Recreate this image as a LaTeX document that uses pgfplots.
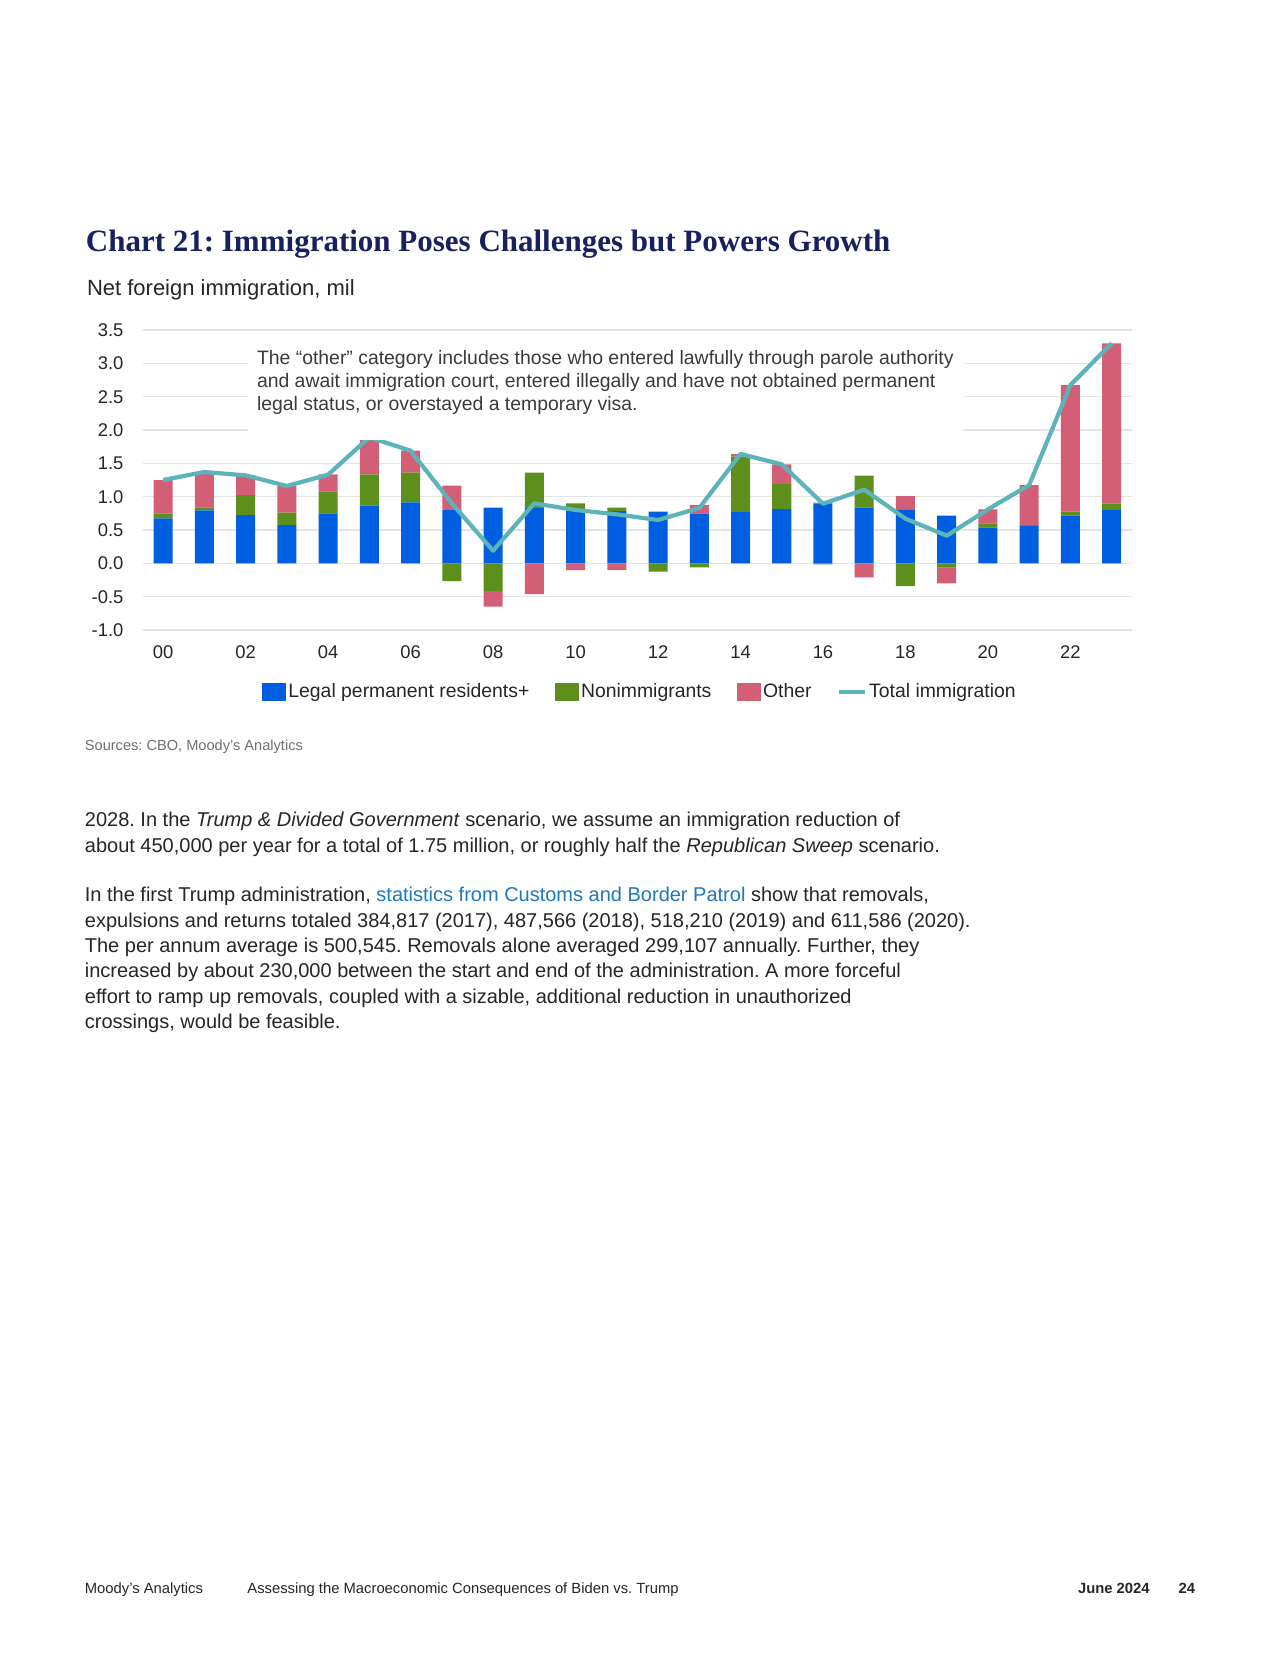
\documentclass[border=0pt]{standalone}
\usepackage{fontspec}
\setmainfont{Liberation Sans}
\newfontfamily\titlefont{Liberation Serif}
\usepackage{pgfplots}
\pgfplotsset{compat=1.18}
\usepackage{pgfplotstable}
\frenchspacing

\definecolor{lpr}{HTML}{005EE0}
\definecolor{nonimm}{HTML}{5C8F1B}
\definecolor{other}{HTML}{D35F77}
\definecolor{total}{HTML}{5DB3BA}
\definecolor{navy}{HTML}{16215E}
\definecolor{txt}{HTML}{262626}
\definecolor{anntxt}{HTML}{3A3A3A}
\definecolor{gridc}{HTML}{E4E4E4}
\definecolor{link}{HTML}{1E78BE}
\definecolor{srcgray}{HTML}{707070}

% idx = year - 2000; components split into positive and negative parts
\pgfplotstableread{
idx lpr  nipos otpos nineg  otneg  total
0  0.675 0.070 0.505 0      0      1.25
1  0.795 0.045 0.510 0      0      1.37
2  0.725 0.300 0.300 0      0      1.32
3  0.575 0.185 0.400 0      0      1.16
4  0.750 0.325 0.260 0      0      1.33
5  0.865 0.470 0.550 0      0      1.89
6  0.915 0.445 0.330 0      0      1.69
7  0.800 0     0.365 -0.265 0      0.90
8  0.835 0     0     -0.415 -0.235 0.19
9  0.830 0.530 0     0      -0.460 0.90
10 0.800 0.100 0     0      -0.100 0.80
11 0.785 0.050 0     0      -0.100 0.735
12 0.775 0     0     -0.125 0      0.65
13 0.745 0     0.130 -0.060 0      0.83
14 0.770 0.830 0.040 0      0      1.64
15 0.815 0.375 0.295 0      0      1.485
16 0.890 0     0.020 -0.015 0      0.895
17 0.835 0.480 0     0      -0.210 1.105
18 0.810 0     0.200 -0.340 0      0.67
19 0.715 0     0     -0.065 -0.235 0.415
20 0.535 0.065 0.210 0      0      0.81
21 0.560 0.015 0.600 0      0      1.175
22 0.715 0.060 1.900 0      0      2.675
23 0.800 0.100 2.400 0      0      3.30
}\data

\pgfplotsset{
  base/.style={
    scale only axis, width=494.9pt, height=150pt,
    xmin=-0.5, xmax=23.5, ymin=-1, ymax=3.5,
    at={(71.25pt,-315pt)}, anchor=south west,
  },
}

\begin{document}
\begin{tikzpicture}[x=0.5pt,y=-0.5pt]
\fill[white] (0,0) rectangle (1280,1656);

% Title
\node[anchor=base west, inner sep=0pt, text=navy,
      font=\titlefont\bfseries\fontsize{15.5pt}{19pt}\selectfont]
  at (85.5,251) {Chart 21: Immigration Poses Challenges but Powers Growth};
\node[anchor=base west, inner sep=0pt, text=txt,
      font=\fontsize{11pt}{13pt}\selectfont]
  at (86.6,295) {Net foreign immigration, mil};

% Positive parts + grid + legend
\begin{axis}[base,
  ybar stacked, bar width=9.5pt,
  axis line style={draw=none},
  major tick length=0pt,
  ymajorgrids, grid style={gridc, line width=0.8pt},
  ytick={-1,-0.5,0,0.5,1,1.5,2,2.5,3,3.5},
  yticklabels={-1.0,-0.5,0.0,0.5,1.0,1.5,2.0,2.5,3.0,3.5},
  xtick={0,2,...,22},
  xticklabels={00,02,04,06,08,10,12,14,16,18,20,22},
  ticklabel style={font=\fontsize{9.2pt}{11pt}\selectfont, text=txt},
  yticklabel shift=6pt,
  xticklabel shift=4.5pt,
  legend style={at={(0.1207,-0.2067)}, anchor=west, draw=none, fill=none,
    inner sep=0pt, legend columns=-1,
    font=\fontsize{9.7pt}{11pt}\selectfont, text=txt,
    nodes={inner xsep=1pt},
    /tikz/every even column/.append style={column sep=11.8pt}},
]
\addplot[fill=lpr, draw=none,
  legend image code/.code={\fill[lpr] (0pt,-4.5pt) rectangle (12pt,4.5pt);}]
  table[x=idx, y=lpr]{\data};
\addlegendentry{Legal permanent residents+}
\addplot[fill=nonimm, draw=none,
  legend image code/.code={\fill[nonimm] (0pt,-4.5pt) rectangle (12pt,4.5pt);}]
  table[x=idx, y=nipos]{\data};
\addlegendentry{Nonimmigrants}
\addplot[fill=other, draw=none,
  legend image code/.code={\fill[other] (0pt,-4.5pt) rectangle (12pt,4.5pt);}]
  table[x=idx, y=otpos]{\data};
\addlegendentry{Other}
\addlegendimage{legend image code/.code={\draw[total, line width=2pt] (0pt,0pt) -- (13pt,0pt);}}
\addlegendentry{Total immigration}
\end{axis}

% Negative parts (stacked downward from zero)
\begin{axis}[base, hide axis, ybar stacked, bar width=9.5pt]
\addplot[fill=nonimm, draw=none] table[x=idx, y=nineg]{\data};
\addplot[fill=other, draw=none] table[x=idx, y=otneg]{\data};
\end{axis}

% Total line
\begin{axis}[base, hide axis]
\addplot[total, line width=2.1pt, line join=round, mark=none] table[x=idx, y=total]{\data};
\end{axis}

% Annotation box
\fill[white] (248,342) rectangle (963,440);
\begin{scope}[every node/.style={anchor=base west, inner sep=0pt, text=anntxt,
      font=\fontsize{9.7pt}{11pt}\selectfont}]
\node at (256.6,364.5) {The “other” category includes those who entered lawfully through parole authority};
\node at (256.6,387) {and await immigration court, entered illegally and have not obtained permanent};
\node at (256.6,410) {legal status, or overstayed a temporary visa.};
\end{scope}

% Sources
\node[anchor=base west, inner sep=0pt, text=srcgray, font=\fontsize{7.3pt}{9pt}\selectfont]
  at (84.5,750) {Sources: CBO, Moody’s Analytics};

% Body text
\begin{scope}[every node/.style={anchor=base west, inner sep=0pt, text=txt,
      font=\fontsize{10pt}{12pt}\selectfont}]
\node at (84.5,826.6) {2028. In the \textit{Trump \& Divided Government} scenario, we assume an immigration reduction of};
\node at (84.5,852) {about 450,000 per year for a total of 1.75 million, or roughly half the \textit{Republican Sweep} scenario.};
\node at (84.5,901.6) {In the first Trump administration, {\color{link}statistics from Customs and Border Patrol} show that removals,};
\node at (84.5,927) {expulsions and returns totaled 384,817 (2017), 487,566 (2018), 518,210 (2019) and 611,586 (2020).};
\node at (84.5,952.3) {The per annum average is 500,545. Removals alone averaged 299,107 annually. Further, they};
\node at (84.5,977.6) {increased by about 230,000 between the start and end of the administration. A more forceful};
\node at (84.5,1003) {effort to ramp up removals, coupled with a sizable, additional reduction in unauthorized};
\node at (84.5,1028.3) {crossings, would be feasible.};
\end{scope}

% Footer
\begin{scope}[every node/.style={inner sep=0pt, text=txt, font=\fontsize{7.4pt}{9pt}\selectfont}]
\node[anchor=base west] at (84.5,1593) {Moody’s Analytics};
\node[anchor=base west] at (247,1593) {Assessing the Macroeconomic Consequences of Biden vs. Trump};
\node[anchor=base east] at (1150,1593) {\bfseries June 2024};
\node[anchor=base east] at (1195.5,1593) {\bfseries 24};
\end{scope}
\end{tikzpicture}
\end{document}
